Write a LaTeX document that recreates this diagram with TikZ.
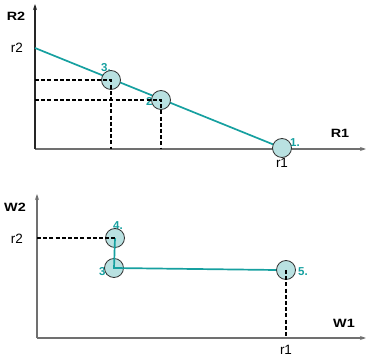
\documentclass[tikz,border=0pt]{standalone}
\usepackage{fontspec}
\setmainfont{Liberation Sans}
\usetikzlibrary{arrows.meta}
\definecolor{teal1}{HTML}{16A0A0}
\definecolor{cfill}{HTML}{B9E1E1}
\definecolor{axisgray}{HTML}{707070}
\begin{document}
\begin{tikzpicture}[x=1pt,y=-1pt,
  axis/.style={draw=axisgray,line width=1.2pt,-{Stealth[length=6pt,width=4pt]}},
  axisblk/.style={draw=black!85,line width=1.1pt,-{Stealth[length=6pt,width=4pt]}},
  pt/.style={circle,draw=black!80,fill=cfill,line width=0.8pt,minimum size=19pt,inner sep=0pt},
  tline/.style={draw=teal1,line width=1.7pt},
  guide/.style={draw=black,line width=1.1pt,dash pattern=on 4pt off 2.2pt},
  axlab/.style={font=\fontsize{12}{13}\selectfont\bfseries,inner sep=0pt,xscale=1.2},
  vlab/.style={font=\fontsize{13.5}{14}\selectfont,inner sep=0pt},
  nlab/.style={font=\fontsize{11.5}{12}\selectfont\bfseries,text=teal1,inner sep=0pt}]
\useasboundingbox (0,0) rectangle (367,358);
% ---------- top plot ----------
\coordinate (O1) at (35,149);
\coordinate (Ytop) at (35,4);
\coordinate (Xend) at (366,149);
\coordinate (Ar2) at (35,48);
\coordinate (Ax3) at (35,80);
\coordinate (Ax2) at (35,100);
\coordinate (B3) at (111,149);
\coordinate (B2) at (161,149);
\draw[axis] (O1) -- (Xend);
\draw[axisblk] (O1) -- (Ytop);
\node[axlab] (R2) at (16,16) {R2};
\node[axlab] (R1) at (340,133) {R1};
\node[vlab] (r2a) at (17,48) {r2};
\node[vlab] (r1a) at (282,163) {r1};
\node[nlab] (l3a) at (106,68) {3.};
\node[nlab] (l2a) at (151,101) {2.};
\node[nlab] (l1a) at (295,143) {1.};
\draw[tline] (Ar2) -- (282,148);
\node[pt] (p3) at (111,80) {};
\node[pt] (p2) at (161,100) {};
\node[pt] (p1) at (282,148) {};
\draw[guide] (Ax3) -- (p3.center) -- (B3);
\draw[guide] (Ax2) -- (p2.center) -- (B2);
% ---------- bottom plot ----------
\coordinate (O2) at (37,338);
\coordinate (Ytop2) at (37,194);
\coordinate (Xend2) at (366,338);
\coordinate (Wr2) at (37,238);
\coordinate (C5) at (286,338);
\draw[axis] (O2) -- (Xend2);
\draw[axis] (O2) -- (Ytop2);
\node[axlab] (W2) at (15,207) {W2};
\node[axlab] (W1) at (344,323) {W1};
\node[vlab] (r2b) at (17,239) {r2};
\node[vlab] (r1b) at (286,350) {r1};
\node[nlab] (l4b) at (118,226) {4.};
\node[nlab] (l3b) at (104,272) {3.};
\node[nlab] (l5b) at (303,272) {5.};
\node[pt] (q4) at (115,238) {};
\node[pt] (q3) at (114,268) {};
\node[pt] (q5) at (286,270) {};
\draw[tline] (q4.center) -- (q3.center) -- (q5.west);
\draw[guide] (Wr2) -- (q4.center);
\draw[guide] (q5.center) -- (C5);
\end{tikzpicture}
\end{document}
